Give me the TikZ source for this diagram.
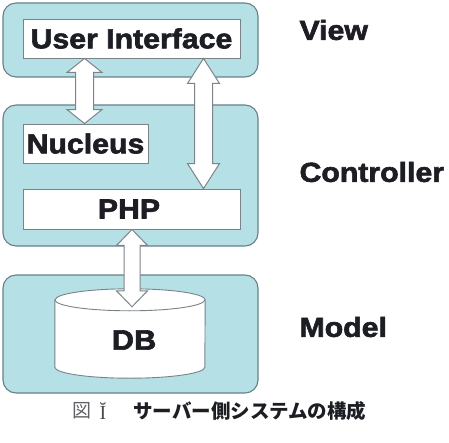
\documentclass[tikz,border=0pt]{standalone}
\usepackage{fontspec}
\setmainfont{Liberation Sans}
\newfontfamily\heavy[FakeBold=2.2, FakeStretch=1.1]{Liberation Sans Bold}
\newfontfamily\cjk{Noto Sans CJK JP}
\newfontfamily\serifnum{Liberation Serif}
\usetikzlibrary{calc}
\definecolor{panelfill}{RGB}{180,224,230}
\definecolor{paneledge}{RGB}{105,128,136}
\definecolor{boxedge}{RGB}{120,130,135}
\definecolor{arrowedge}{RGB}{125,132,136}
\definecolor{ink}{RGB}{28,30,36}
\tikzset{
  panel/.style={draw=paneledge, line width=1.1pt, fill=panelfill, rounded corners=13pt},
  part/.style={draw=boxedge, line width=0.9pt, fill=white, inner sep=0pt,
               text=ink, font=\heavy\fontsize{27.5}{30}\selectfont},
  layer/.style={anchor=west, text=ink, font=\heavy\fontsize{27.5}{30}\selectfont},
  fatarrow/.style={draw=arrowedge, line width=1pt, fill=white, line join=miter}
}
% two-headed hollow arrow between two points on one vertical line:
% #1 top end, #2 bottom end, #3 head half-width, #4 shaft half-width, #5 head length
\newcommand\twoway[5]{%
  \draw[fatarrow] (#1) -- ($(#1)+(#3,-#5)$) -- ($(#1)+(#4,-#5)$)
    -- ($(#2)+(#4,#5)$) -- ($(#2)+(#3,#5)$) -- (#2)
    -- ($(#2)+(-#3,#5)$) -- ($(#2)+(-#4,#5)$)
    -- ($(#1)+(-#4,-#5)$) -- ($(#1)+(-#3,-#5)$) -- cycle;}
\begin{document}
\begin{tikzpicture}[x=1pt,y=1pt]
\useasboundingbox (0,0) rectangle (449,442);
\fill[white] (0,0) rectangle (449,442);

% layer panels
\draw[panel] (3,365) rectangle (258,439);
\draw[panel] (3,196) rectangle (258,337);
\draw[panel] (3,49) rectangle (258,167);

% components
\node[part, minimum width=217pt, minimum height=39pt] (ui) at (131.5,403.5) {User Interface};
\node[part, minimum width=125pt, minimum height=39pt] (nuc) at (85.5,298.5) {Nucleus};
\node[part, minimum width=217pt, minimum height=40pt] (php) at (131.5,233) {};
\node[text=ink, font=\heavy\fontsize{27.5}{30}\selectfont] (phplabel) at (129,233) {PHP};

% database cylinder
\node[minimum width=150pt, minimum height=89pt, inner sep=0pt] (db) at (130,108.5) {};
\draw[draw=boxedge, line width=0.9pt, fill=white]
  (db.north west) ++(0,-11) coordinate (dbtl)
  -- ($(db.south west)+(0,11)$) arc[start angle=180, end angle=360, x radius=75, y radius=11]
  -- ($(db.north east)+(0,-11)$) arc[start angle=0, end angle=180, x radius=75, y radius=11];
\draw[draw=boxedge, line width=0.9pt] (dbtl) arc[start angle=180, end angle=360, x radius=75, y radius=11];
\node[text=ink, font=\heavy\fontsize{28}{30}\selectfont] (dblabel) at (134,102) {DB};

% arrow end points
\coordinate (x1) at (84.5,0);
\coordinate (x2) at (203.5,0);
\coordinate (x3) at (132,0);
\coordinate (a1t) at (ui.south -| x1);
\coordinate (a1b) at (nuc.north -| x1);
\coordinate (a2t) at (ui.south -| x2);
\coordinate (a2b) at (php.north -| x2);
\coordinate (a3t) at (php.south -| x3);
\coordinate (a3b) at ($(db.north -| x3)+(0,-18)$);

\twoway{a1t}{a1b}{17.5}{9}{14}
\twoway{a2t}{a2b}{16}{9}{25}
\twoway{a3t}{a3b}{15.5}{8}{16}

% layer names
\node[layer] (view) at (296,412) {View};
\node[layer] (ctrl) at (296,270) {Controller};
\node[layer] (model) at (296,115) {Model};

% caption
\node[anchor=west, text=ink!70, font=\cjk\fontsize{19}{22}\selectfont] (fig) at (69,31) {図};
\node[anchor=west, text=ink!80, font=\serifnum\fontsize{20}{22}\selectfont] (num) at (96,31) {Ĭ};
\node[anchor=west, text=ink, font=\cjk\bfseries\fontsize{19.5}{22}\selectfont, inner sep=0pt] (cap) at (133,31) {サーバー側システムの構成};
\end{tikzpicture}
\end{document}
